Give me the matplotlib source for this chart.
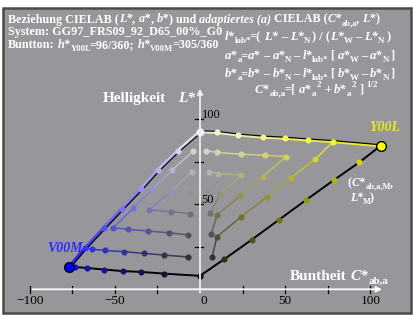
import matplotlib
matplotlib.use("Agg")
import matplotlib.pyplot as plt
import numpy as np
from matplotlib.collections import LineCollection
from matplotlib.patches import Rectangle
from matplotlib.transforms import IdentityTransform, offset_copy

# Punkte je Zeile konstanter Weissanteil j (j = 0..7), von der Farbe M zur Grauachse
Y_C = [
    [106.1, 93.6, 78.4, 62.2, 46.2, 30.5, 14.1, 0.0],
    [78.3, 67.7, 53.4, 39.1, 24.1, 10.0, 7.0],
    [63.6, 50.5, 36.8, 23.7, 10.0, 6.5],
    [50.1, 38.2, 24.1, 11.7, 5.9],
    [36.8, 24.1, 10.7, 4.7],
    [22.5, 9.8, 5.5],
    [9.8, 3.5],
    [0.0],
]
Y_L = [
    [84.3, 74.6, 64.0, 52.4, 40.7, 29.2, 17.6, 7.9],
    [86.7, 76.5, 65.5, 54.0, 42.6, 30.9, 18.8],
    [87.7, 77.9, 66.1, 55.0, 43.6, 32.3],
    [88.7, 78.7, 67.1, 55.8, 44.6],
    [89.4, 79.3, 67.9, 57.1],
    [90.6, 80.4, 69.1],
    [92.2, 81.4],
    [92.5],
]
V_C = [
    [-76.7, -73.4, -66.2, -56.2, -45.4, -34.4, -21.0, 0.0],
    [-67.5, -63.6, -55.8, -44.6, -32.9, -21.0, -7.2],
    [-56.2, -50.9, -42.5, -30.4, -18.2, -6.9],
    [-45.6, -39.2, -29.9, -17.0, -5.9],
    [-34.8, -28.0, -17.0, -5.9],
    [-24.5, -16.3, -4.9],
    [-12.7, -3.9],
    [0.0],
]
V_L = [
    [13.3, 13.1, 12.5, 11.6, 10.7, 10.2, 9.2, 7.9],
    [24.1, 23.5, 22.8, 22.1, 21.1, 20.1, 19.0],
    [36.2, 36.2, 35.2, 34.2, 33.2, 31.9],
    [47.4, 47.6, 46.6, 45.6, 44.4],
    [58.7, 58.7, 57.3, 56.4],
    [70.1, 70.1, 69.1],
    [81.5, 81.2],
    [92.5],
]
Y_RGB = (1.0, 1.0, 0.0)
V_RGB = (0.0, 0.0, 1.0)

x_ticks = [-100, -75, -50, -25, 25, 50, 75, 100]
x_labels = {-100: "\u2212100", -50: "\u221250", 0: "0", 50: "50", 100: "100"}
y_ticks = [25, 50, 75, 100]
y_labels = {50: "50", 100: "100"}

W_PX, H_PX = 413, 316
S = 1.703  # Pixel je CIELAB-Einheit
X0, Y0 = 200.0, 289.3  # Ursprung in Pixeln (von oben)
FONT = "Liberation Serif"
BG = "#97979b"
BG_RGB = np.array([0x97, 0x97, 0x9b]) / 255

fig = plt.figure(figsize=(W_PX / 100, H_PX / 100), dpi=100)
fig.patch.set_facecolor("white")
fig.patches.append(Rectangle((3 / W_PX, (H_PX - 313) / H_PX), 408 / W_PX, 305.5 / H_PX,
                             transform=fig.transFigure, fc=BG, ec="#4a4a4a", lw=1.8,
                             zorder=-10))
ax = fig.add_axes([0, 0, 1, 1])
ax.set_xlim(-X0 / S, (W_PX - X0) / S)
ax.set_ylim((Y0 - H_PX) / S, Y0 / S)
ax.axis("off")


def mix(m_rgb, i, j, dim=0.12):
    c = (i * np.array(m_rgb) + j * np.ones(3)) / 7.0
    return tuple((1 - dim) * c + dim * BG_RGB)


def pt(C, L, j, k):
    return (C[j][k], L[j][k])


def colored_path(C, L, m_rgb, path, lw, trans=None):
    # path: Liste von (j, index); Segmente in Mischfarbe
    segs, cols = [], []
    for (j1, k1), (j2, k2) in zip(path[:-1], path[1:]):
        segs.append([pt(C, L, j1, k1), pt(C, L, j2, k2)])
        c1 = np.array(mix(m_rgb, 7 - j1 - k1, j1, 0.18))
        c2 = np.array(mix(m_rgb, 7 - j2 - k2, j2, 0.18))
        cols.append(tuple((c1 + c2) / 2))
    lc = LineCollection(segs, colors=cols, linewidths=lw, capstyle="round",
                        transform=trans or ax.transData)
    ax.add_collection(lc)


def draw_side(C, L, m_rgb, edge_lw, black_dx, black_dy):
    edge = [(j, 0) for j in range(7, -1, -1)]
    colored_path(C, L, m_rgb, edge, edge_lw)
    for k in range(3):
        path = [(j, k) for j in range(7 - k, k, -1)] + [(k + 1, n) for n in range(k + 1, 7 - k)]
        colored_path(C, L, m_rgb, path, 1.1)
    off = offset_copy(ax.transData, fig=fig, x=black_dx, y=black_dy, units="dots")
    ax.plot([C[j][0] for j in range(7, -1, -1)], [L[j][0] for j in range(7, -1, -1)],
            color="black", lw=0.9, transform=off)
    ax.plot(C[0], L[0], color="black", lw=1.4)
    for j in range(8):
        for k in range(8 - j):
            i = 7 - j - k
            if i == 7 or (i == 0 and j == 7):
                continue
            ax.plot(C[j][k], L[j][k], "o", ms=4.4, color=mix(m_rgb, i, j), mec="none")
    ax.plot(C[0][0], L[0][0], "o", ms=7, color=m_rgb, mec="black", mew=1.0)


draw_side(V_C, V_L, V_RGB, 2.6, 1.3, -0.6)
draw_side(Y_C, Y_L, Y_RGB, 2.2, 0, 1.0)
ax.plot(0, Y_L[7][0], "o", ms=5.5, color="#f2f2f2", mec="#dddddd", mew=0.5)

# Achsen
ax.annotate("", xy=(108.5, 0), xytext=(-100, 0),
            arrowprops=dict(arrowstyle="-|>", color="white", lw=1.3, mutation_scale=8))
ax.annotate("", xy=(0, 119.5), xytext=(0, -3.5),
            arrowprops=dict(arrowstyle="-|>", color="#eeeeee", lw=1.3, mutation_scale=8))
for t in x_ticks:
    ax.plot([t, t], [-2.0, 2.0], color="black", lw=0.9)
for t in y_ticks:
    ax.plot([-3.0, 2.0], [t, t], color="black", lw=0.9)
for t, s in x_labels.items():
    ax.text(t + (2.5 if t == 0 else 0), -7.0, s, ha="center", va="center",
            fontsize=9.5, family=FONT, color="black")
for t, s in y_labels.items():
    ax.text(1.0, t + 0.6, s, ha="left", va="baseline", fontsize=9, family=FONT, color="black")

renderer = fig.canvas.get_renderer()


def rich(x, y, parts, size=9.0, color="white"):
    for s, st in parts:
        fs = size * 0.72 if st in ("sub", "sup") else size
        px = fs * 100 / 72
        dy = {"sub": -0.22, "sup": 0.45}.get(st, 0) * size * 100 / 72
        lead = len(s) - len(s.lstrip(" "))
        trail = len(s) - len(s.rstrip(" "))
        x += lead * 0.25 * px
        t = fig.text(x, H_PX - y + dy, s.strip(" "), transform=IdentityTransform(),
                     fontsize=fs, family=FONT, weight="bold",
                     style="italic" if st == "bi" else "normal",
                     color=color, ha="left", va="baseline")
        x = t.get_window_extent(renderer).x1 + trail * 0.25 * px
        if st == "sub":
            x -= 1.5
    return x


rich(8, 22.5, [("Beziehung CIELAB (", "b"), ("L*", "bi"), (",", "b"), (" a*", "bi"),
               (",", "b"), (" b*", "bi"), (") und ", "b"), ("adaptiertes (a)", "bi"),
               (" CIELAB (", "b"), ("C*", "bi"), ("ab,a", "sub"), (",", "b"),
               (" L*", "bi"), (")", "b")], size=8.7)
rich(8, 35, [("System: GG97_FRS09_92_D65_00%_G0", "b")], size=8.7)
rich(8, 48, [("Buntton: ", "b"), ("h*", "bi"), ("Y00L", "sub"), ("=96/360; ", "b"),
             ("h*", "bi"), ("V00M", "sub"), ("=305/360", "b")], size=8.7)

rich(225, 40, [("l*", "bi"), ("lab*", "sub"), ("=( ", "b"), ("L*", "bi"), (" \u2013 ", "b"),
               ("L*", "bi"), ("N", "sub"), (" ) / (", "b"), ("L*", "bi"), ("W", "sub"),
               (" \u2013 ", "b"), ("L*", "bi"), ("N", "sub"), (" )", "b")])
for y, v in ((59, "a*"), (77, "b*")):
    rich(225, y, [(v, "bi"), ("a", "sub"), ("=", "b"), (v, "bi"), (" \u2013 ", "b"),
                  (v, "bi"), ("N", "sub"), (" \u2013 ", "b"), ("l*", "bi"), ("lab*", "sub"),
                  (" [ ", "b"), (v, "bi"), ("W", "sub"), (" \u2013 ", "b"), (v, "bi"),
                  ("N", "sub"), (" ]", "b")])
x = rich(255, 93, [("C*", "bi"), ("ab,a", "sub"), ("=[ ", "b"), ("a*", "bi")])
x = rich(x, 93, [("a", "sub")])
x = rich(x + 2, 93, [("2", "sup"), (" + ", "b"), ("b*", "bi")])
x = rich(x, 93, [("a", "sub")])
rich(x + 2, 93, [("2", "sup"), (" ] ", "b"), ("1/2", "sup")])

rich(103, 102, [("Helligkeit", "b"), ("   L*", "bi")], size=11)
rich(290, 280, [("Buntheit", "b"), (" C*", "bi"), ("ab,a", "sub")], size=11)
rich(369, 131, [("Y00L", "bi")], size=10, color="#e8e820")
rich(47, 252, [("V00M", "bi")], size=10, color="#2a2aff")
rich(348, 186, [("(", "b"), ("C*", "bi"), ("ab,a,M", "sub"), (",", "b")], size=8.5)
rich(350, 201, [("L*", "bi"), ("M", "sub"), (")", "b")], size=8.5)

rich(28, 324, [("DG970-7N_1-1 / 1-8-0 / 1-8-1 / 1-8-A", "b")], size=9, color="#909090")

fig.savefig("out.png", dpi=100)
